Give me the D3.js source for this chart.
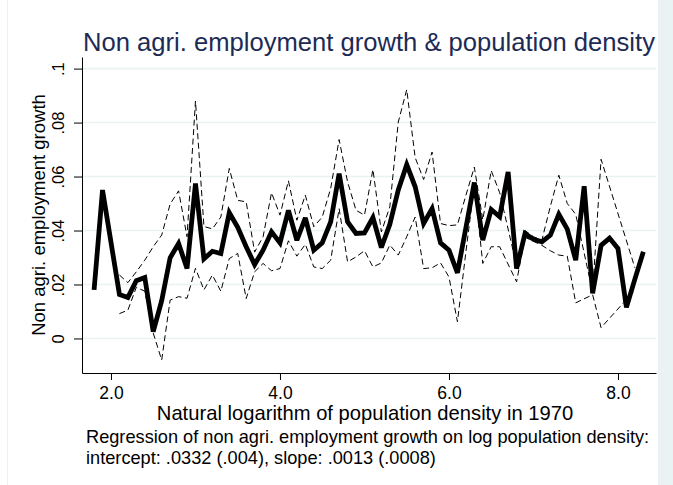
<!DOCTYPE html>
<html>
<head>
<meta charset="utf-8">
<script src="https://cdn.jsdelivr.net/npm/d3@7"></script>
<style>
  html, body { margin: 0; padding: 0; background: #ffffff; }
  svg { display: block; font-family: "Liberation Sans", Arial, sans-serif; }
</style>
</head>
<body>
<svg id="chart" width="673" height="485"></svg>
<script>
// ---- data ----
const density = [1.8,1.9,2.1,2.2,2.3,2.4,2.5,2.6,2.7,2.8,2.9,3.0,3.1,3.2,3.3,3.4,3.5,3.6,3.7,3.8,3.9,4.0,
  4.1,4.2,4.3,4.4,4.5,4.6,4.7,4.8,4.9,5.0,5.1,5.2,5.3,5.4,5.5,5.6,5.7,5.8,5.9,6.0,
  6.1,6.2,6.3,6.4,6.5,6.6,6.7,6.8,6.9,7.0,7.1,7.2,7.3,7.4,7.5,7.6,7.7,7.8,7.9,8.0,8.1,8.2,8.3];
const meanGrowth = [0.018,0.055,0.0163,0.0152,0.0214,0.0226,0.0025,0.014,0.0299,0.0352,0.0259,0.0574,
  0.0295,0.0323,0.0315,0.0466,0.0412,0.034,0.0274,0.0327,0.0395,0.0354,
  0.0475,0.0364,0.0447,0.0327,0.0354,0.0432,0.0611,0.0432,0.0389,0.0391,0.0448,0.0337,0.0423,0.055,0.0644,0.0562,0.0426,0.0481,0.0354,0.0327,
  0.0243,0.041,0.0578,0.0364,0.0478,0.0451,0.0617,0.0259,0.0389,0.0367,0.0358,0.0383,0.046,0.0405,0.029,0.0564,0.0167,0.0345,0.0372,0.0333,0.0115,0.022,0.0321];
const upperBand = [null,null,0.0235,0.0207,0.0247,0.029,0.034,0.0383,0.0498,0.0547,0.0377,0.088,
  0.0415,0.0406,0.045,0.063,0.0512,0.0506,0.032,0.0377,0.054,0.0457,
  0.0584,0.0438,0.0531,0.0414,0.045,0.0556,0.0737,0.058,0.0475,0.0457,0.0626,0.0395,0.0488,0.0802,0.0922,0.067,0.0589,0.0691,0.0426,0.0418,
  0.0421,0.053,0.0635,0.044,0.0622,0.054,null,0.027,0.040,0.0377,0.0365,0.049,0.0605,0.05,0.046,null,0.0172,0.0664,null,null,null,0.0262,null];
const lowerBand = [null,null,0.0092,0.0105,0.019,0.0175,0.002,-0.008,0.0142,0.0155,0.0149,0.026,
  0.018,0.0235,0.0175,0.0296,0.0315,0.0148,0.0247,0.0278,0.0251,0.0259,
  0.0362,0.0305,0.0349,0.0265,0.0259,0.029,0.0481,0.0284,0.0302,0.0325,0.0265,0.028,0.0346,0.0309,0.0377,0.045,0.0259,0.0262,0.028,0.0228,
  0.0062,0.032,0.057,0.0278,0.034,0.034,null,0.021,0.0375,0.036,0.0345,0.0325,0.0309,0.0305,0.0132,null,0.0162,0.004,null,null,null,0.0179,null];
const xTicks = [2, 4, 6, 8];
const yTicks = [0, 0.02, 0.04, 0.06, 0.08, 0.1];
const titleText = "Non agri. employment growth & population density";
const xTitle = "Natural logarithm of population density in 1970";
const yTitle = "Non agri. employment growth";
const noteLines = ["Regression of non agri. employment growth on log population density:",
                   "intercept: .0332 (.004), slope: .0013 (.0008)"];

// ---- layout ----
const W = 673, H = 485;
const plot = {left: 82, right: 656, top: 57, bottom: 373};
const svg = d3.select("#chart");

// graph-region strip on the right and faint border on the left
svg.append("rect").attr("x", 658).attr("y", 0).attr("width", W - 658).attr("height", H).attr("fill", "#eaf2f3");
svg.append("line").attr("x1", 7.5).attr("x2", 7.5).attr("y1", 0).attr("y2", H).attr("stroke", "#eaf2f3").attr("stroke-width", 1);

const x = d3.scaleLinear().domain([1.657, 8.45]).range([plot.left, plot.right]);
const y = d3.scaleLinear().domain([-0.0128, 0.1043]).range([plot.bottom, plot.top]);

// grid
svg.append("g").selectAll("line").data(yTicks).join("line")
  .attr("x1", plot.left).attr("x2", plot.right)
  .attr("y1", d => y(d)).attr("y2", d => y(d))
  .attr("stroke", "#eaf2f3").attr("stroke-width", 1.6);

// axes
const fmtY = d => d === 0 ? "0" : d3.format(".2~f")(d).replace(/^0/, "");
const yAxis = svg.append("g").attr("transform", `translate(${plot.left},0)`)
  .call(d3.axisLeft(y).tickValues(yTicks).tickFormat(fmtY).tickSize(8).tickSizeOuter(0));
yAxis.select(".domain").attr("stroke", "#000").attr("stroke-width", 1);
yAxis.selectAll(".tick line").attr("stroke", "#000").attr("stroke-width", 1);
yAxis.selectAll(".tick text")
  .attr("x", 0).attr("dy", null).attr("y", 0)
  .attr("text-anchor", "middle")
  .attr("transform", "translate(-18.5,0) rotate(-90)")
  .attr("font-size", 16.5).attr("fill", "#000")
  .attr("font-family", "Liberation Sans, Arial, sans-serif");

const xAxis = svg.append("g").attr("transform", `translate(0,${plot.bottom})`)
  .call(d3.axisBottom(x).tickValues(xTicks).tickFormat(d3.format(".1f")).tickSize(7).tickSizeOuter(0));
xAxis.select(".domain").attr("stroke", "#000").attr("stroke-width", 1);
xAxis.selectAll(".tick line").attr("stroke", "#000").attr("stroke-width", 1);
xAxis.selectAll(".tick text")
  .attr("y", 0).attr("dy", null).attr("transform", "translate(0,25.5)")
  .attr("font-size", 17.5).attr("fill", "#000")
  .attr("font-family", "Liberation Sans, Arial, sans-serif");

// series
const rows = density.map((d, i) => ({x: d, m: meanGrowth[i], u: upperBand[i], l: lowerBand[i]}));
const lineOf = key => d3.line().x(d => x(d.x)).y(d => y(d[key]));
const g = svg.append("g");
g.append("path").datum(rows.filter(d => d.u !== null)).attr("d", lineOf("u"))
  .attr("fill", "none").attr("stroke", "#000").attr("stroke-width", 1).attr("stroke-dasharray", "6,3.5");
g.append("path").datum(rows.filter(d => d.l !== null)).attr("d", lineOf("l"))
  .attr("fill", "none").attr("stroke", "#000").attr("stroke-width", 1).attr("stroke-dasharray", "6,3.5");
g.append("path").datum(rows).attr("d", lineOf("m"))
  .attr("fill", "none").attr("stroke", "#000").attr("stroke-width", 4.8)
  .attr("stroke-linejoin", "miter").attr("stroke-miterlimit", 3);

// titles
svg.append("text").attr("x", 369).attr("y", 51).attr("text-anchor", "middle")
  .attr("font-size", 25.6).attr("fill", "#1c2b55").text(titleText);
svg.append("text").attr("x", 365).attr("y", 419.5).attr("text-anchor", "middle")
  .attr("font-size", 20.2).attr("fill", "#000").text(xTitle);
svg.append("text").attr("transform", `translate(45,215) rotate(-90)`)
  .attr("text-anchor", "middle").attr("font-size", 18.5).attr("fill", "#000").text(yTitle);
svg.append("g").selectAll("text").data(noteLines).join("text")
  .attr("x", 86).attr("y", (d, i) => 443 + i * 20.5)
  .attr("font-size", 18.2).attr("fill", "#000").text(d => d);
</script>
</body>
</html>
